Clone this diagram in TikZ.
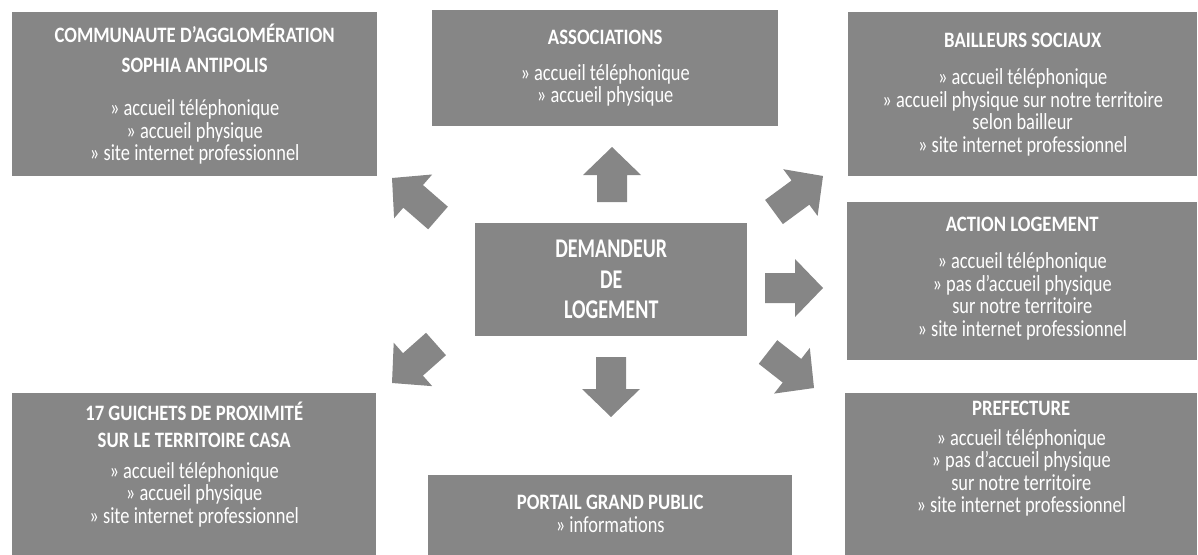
\documentclass[tikz,border=0pt]{standalone}
\usepackage{fontspec}
\setmainfont{Carlito}[FakeStretch=0.8]
\newfontfamily\tfont{Carlito}[FakeStretch=0.85]
\newfontfamily\cfont{Carlito}[FakeStretch=0.74]
\usetikzlibrary{calc}
\definecolor{boxgray}{RGB}{134,134,134}
\newcommand\tightlines{\lineskiplimit=-50pt\relax\lineskip=0pt\relax}
\tikzset{
  box/.style={anchor=north west, fill=boxgray, text=white, inner sep=0pt, align=center,
    font={\fontsize{23}{22.5}\selectfont\tightlines}},
  arrowfill/.style={fill=boxgray},
}
\newcommand\ttl[1]{{\tfont\bfseries\fontsize{22}{22}\selectfont #1}}
\newcommand\blockarrow[2]{%
  \coordinate (#1-h) at ($(#2)!28pt!(#1)$);
  \fill[arrowfill] ($(#1)!15pt!90:(#2)$) -- ($(#1-h)!15pt!-90:(#1)$) -- ($(#1-h)!29pt!-90:(#1)$) -- (#2)
    -- ($(#1-h)!29pt!90:(#1)$) -- ($(#1-h)!15pt!90:(#1)$) -- ($(#1)!15pt!-90:(#2)$) -- cycle;}
\begin{document}
\begin{tikzpicture}[x=1pt,y=-1pt]
\useasboundingbox (0,0) rectangle (1198,554);
% boxes
\node[box, minimum width=365pt, minimum height=164pt] (casa) at (12,12)
  {\ttl{COMMUNAUTE D’AGGLOMÉRATION}\\[7pt]\ttl{SOPHIA ANTIPOLIS}\\[21pt]» accueil téléphonique\\» accueil physique\\» site internet professionnel};
\node[box, minimum width=346pt, minimum height=116pt] (assoc) at (432,10)
  {\ttl{ASSOCIATIONS}\\[13pt]» accueil téléphonique\\» accueil physique};
\node[box, minimum width=349pt, minimum height=164pt] (bail) at (848,12)
  {\ttl{BAILLEURS SOCIAUX}\\[15pt]» accueil téléphonique\\» accueil physique sur notre territoire\\selon bailleur\\» site internet professionnel};
\node[box, minimum width=272pt, minimum height=113pt, font={\cfont\bfseries\fontsize{27}{30.5}\selectfont}] (dem) at (475,223)
  {DEMANDEUR\\DE\\LOGEMENT};
\fill[boxgray] (847,300) rectangle (1197,360);
\node[box, minimum width=350pt, minimum height=152pt] (action) at (847,202)
  {\ttl{ACTION LOGEMENT}\\[15pt]» accueil téléphonique\\» pas d’accueil physique\\sur notre territoire\\» site internet professionnel};
\fill[boxgray] (12,440) rectangle (376,560);
\node[box, minimum width=364pt, minimum height=142pt] (guichets) at (12,393)
  {\ttl{17 GUICHETS DE PROXIMITÉ}\\[5pt]\ttl{SUR LE TERRITOIRE CASA}\\[8pt]» accueil téléphonique\\» accueil physique\\» site internet professionnel};
\fill[boxgray] (428,500) rectangle (792,560);
\node[box, minimum width=364pt, minimum height=77pt] (portail) at (428,475)
  {\ttl{PORTAIL GRAND PUBLIC}\\[1pt]» informations};
\fill[boxgray] (845,440) rectangle (1197,560);
\node[box, minimum width=352pt, minimum height=131pt] (pref) at (845,393)
  {\ttl{PREFECTURE}\\[7pt]» accueil téléphonique\\» pas d’accueil physique\\sur notre territoire\\» site internet professionnel};
% arrows
\coordinate (aU) at (612,202); \coordinate (aU-t) at (612,147);
\coordinate (aD) at (611,357); \coordinate (aD-t) at (611,417);
\coordinate (aR) at (765,288); \coordinate (aR-t) at (823,288);
\coordinate (aUL) at (438,218); \coordinate (aUL-t) at (392,178);
\coordinate (aUR) at (774,212); \coordinate (aUR-t) at (823,176);
\coordinate (aLL) at (436,344); \coordinate (aLL-t) at (392,383);
\coordinate (aLR) at (768,352); \coordinate (aLR-t) at (814,388);
\blockarrow{aU}{aU-t}
\blockarrow{aD}{aD-t}
\blockarrow{aR}{aR-t}
\blockarrow{aUL}{aUL-t}
\blockarrow{aUR}{aUR-t}
\blockarrow{aLL}{aLL-t}
\blockarrow{aLR}{aLR-t}
\end{tikzpicture}
\end{document}
